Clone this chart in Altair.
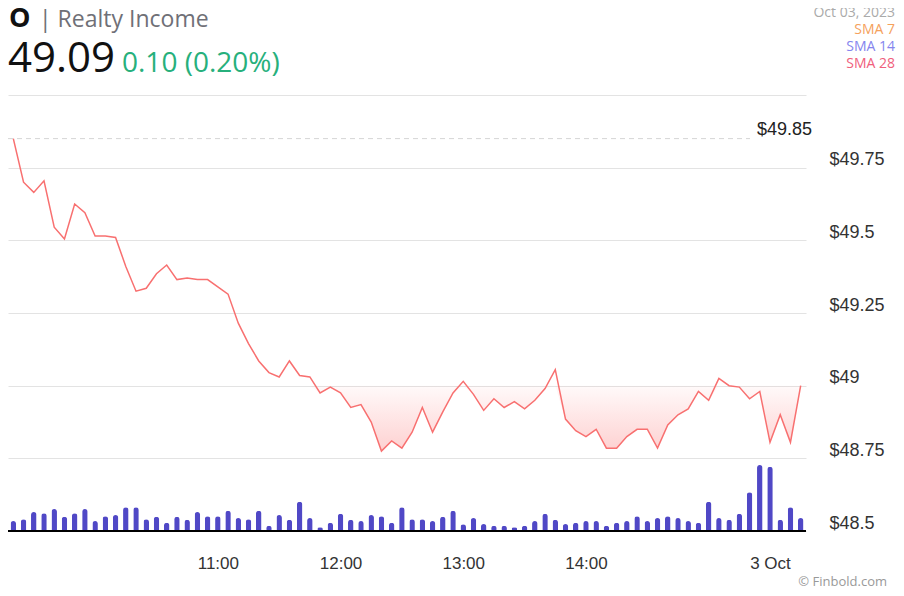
import altair as alt
import pandas as pd
import numpy as np

# ---- data ----
prices = [49.85, 49.70, 49.665, 49.705, 49.545, 49.505, 49.625, 49.595, 49.515, 49.515,
          49.51, 49.41, 49.325, 49.335, 49.385, 49.415, 49.365, 49.37, 49.365, 49.365,
          49.34, 49.315, 49.215, 49.145, 49.085, 49.045, 49.03, 49.085, 49.035, 49.03,
          48.975, 48.995, 48.975, 48.925, 48.935, 48.875, 48.775, 48.81, 48.785, 48.84,
          48.925, 48.84, 48.91, 48.975, 49.015, 48.97, 48.915, 48.955, 48.925, 48.945,
          48.92, 48.95, 48.99, 49.055, 48.885, 48.845, 48.825, 48.85, 48.785, 48.785,
          48.825, 48.85, 48.85, 48.785, 48.865, 48.9, 48.92, 48.98, 48.95, 49.025,
          49.0, 48.995, 48.955, 48.98, 48.805, 48.9, 48.805, 49.0]

volumes = [10000, 11700, 19000, 17700, 22000, 14300, 17700, 22000, 10000, 14700,
           16000, 23700, 23700, 11700, 14300, 8300, 14300, 11300, 19000, 14700,
           14700, 20300, 13000, 11700, 20300, 5300, 16000, 11300, 29300, 13000,
           3700, 8300, 17300, 11300, 10000, 16000, 14700, 8300, 23700, 11700,
           11700, 10000, 14300, 20300, 6700, 13000, 7000, 5300, 5300, 3700,
           5300, 10000, 17300, 11300, 7000, 8300, 10000, 10000, 5300, 8300,
           10000, 14700, 10000, 13000, 14700, 13000, 10000, 8300, 29300, 13000,
           11300, 17300, 38700, 66000, 64300, 11300, 23700, 13000]

tick_index = [20, 32, 44, 56, 74]
tick_labels = ["11:00", "12:00", "13:00", "14:00", "3 Oct"]
y_ticks = [48.5, 48.75, 49.0, 49.25, 49.5, 49.75, 50.0]
prev_close = 49.0
high_mark = 49.85

df = pd.DataFrame({
    "i": list(range(len(prices))),
    "price": prices,
    "vol": volumes,
})
df["clip"] = np.minimum(df["price"], prev_close)
df["base"] = prev_close

W, H = 798, 436
AXF = "Liberation Sans"

x_scale = alt.Scale(domain=[-0.52, len(prices) - 0.48], nice=False, zero=False, padding=0)
y_scale = alt.Scale(domain=[48.5, 50.0], nice=False, zero=False)

label_expr = " : ".join(
    [f"datum.value == {v} ? '{l}'" for v, l in zip(tick_index, tick_labels)]
) + " : ''"

x_axis = alt.Axis(values=tick_index, labelExpr=label_expr, grid=False,
                  ticks=False, domain=False, labelFont=AXF, labelFontSize=17,
                  labelColor="#333", labelPadding=24, title=None)

base = alt.Chart(df)

bars = base.mark_bar(
    width=5.5, cornerRadiusTopLeft=3, cornerRadiusTopRight=3, color="#5048c6"
).encode(
    x=alt.X("i:Q", scale=x_scale, axis=x_axis),
    y=alt.Y("vol:Q", scale=alt.Scale(domain=[0, 436000], nice=False), axis=None),
)

area = base.mark_area(
    color=alt.Gradient(
        gradient="linear",
        stops=[alt.GradientStop(color="rgba(255,120,120,0.04)", offset=0),
               alt.GradientStop(color="rgba(250,120,120,0.34)", offset=1)],
        x1=0, x2=0, y1=0, y2=1,
    )
).encode(
    x=alt.X("i:Q", scale=x_scale, axis=x_axis),
    y=alt.Y("clip:Q", scale=y_scale,
            axis=alt.Axis(orient="right", values=y_ticks, grid=True, gridColor="#e3e3e3",
                          ticks=False, domain=False, labelFont=AXF, labelFontSize=18,
                          labelColor="#333", labelPadding=23, labelBaseline="alphabetic",
                          labelOffset=-3,
                          labelExpr="datum.value == 50 ? '' : '$' + datum.value",
                          title=None)),
    y2="base:Q",
)

line = base.mark_line(color="#f87070", strokeWidth=1.5).encode(
    x=alt.X("i:Q", scale=x_scale, axis=x_axis),
    y=alt.Y("price:Q", scale=y_scale, axis=None),
)

hi_df = pd.DataFrame({"v": [high_mark], "lab": ["$49.85"]})
hi_rule = alt.Chart(hi_df).mark_rule(color="#d6d6d6", strokeDash=[5, 4], strokeWidth=1).encode(
    x=alt.value(0), x2=alt.value(742), y=alt.Y("v:Q", scale=y_scale, axis=None)
)
hi_text = alt.Chart(hi_df).mark_text(
    align="left", baseline="alphabetic", dy=-4, font=AXF, fontSize=18, color="#222"
).encode(x=alt.value(749), y=alt.Y("v:Q", scale=y_scale, axis=None), text="lab:N")

baseline_rule = alt.Chart(df).mark_rule(color="#000", strokeWidth=2).encode(
    x=alt.value(0), x2=alt.value(W), y=alt.value(H)
)

HF = "Open Sans"
def txt(s, x, y, size, color, align="left", weight="normal"):
    return alt.Chart(hi_df).mark_text(
        text=s, align=align, baseline="alphabetic", font=HF, fontSize=size,
        color=color, fontWeight=weight
    ).encode(x=alt.value(x), y=alt.value(y))

header = [
    txt("O", 1, -68, 27, "#111", weight="bold"),
    txt("| Realty Income", 31, -68, 23, "#6f7077"),
    txt("49.09", 0, -23, 42, "#111"),
    txt("0.10 (0.20%)", 114, -23, 28, "#27b07c"),
    txt("Oct 03, 2023", 887, -78, 14, "#aaaaaa", align="right"),
    txt("SMA 7", 887, -61, 14, "#f5a15c", align="right"),
    txt("SMA 14", 887, -44, 14, "#8585ee", align="right"),
    txt("SMA 28", 887, -27, 14, "#f0607c", align="right"),
    txt("© Finbold.com", 879, 491, 13, "#999999", align="right"),
]

chart = alt.layer(
    area, bars, line, hi_rule, hi_text, baseline_rule, *header
).resolve_scale(y="independent").properties(
    width=W, height=H,
    background="white",
    autosize=alt.AutoSizeParams(type="none"),
    padding={"left": 0, "top": 87, "right": 90, "bottom": 57},
).configure_view(
    strokeWidth=0, stroke="transparent"
).configure_axis(
    domain=False, ticks=False
)

chart.save("out.html", embed_options={"renderer": "svg", "actions": False})
